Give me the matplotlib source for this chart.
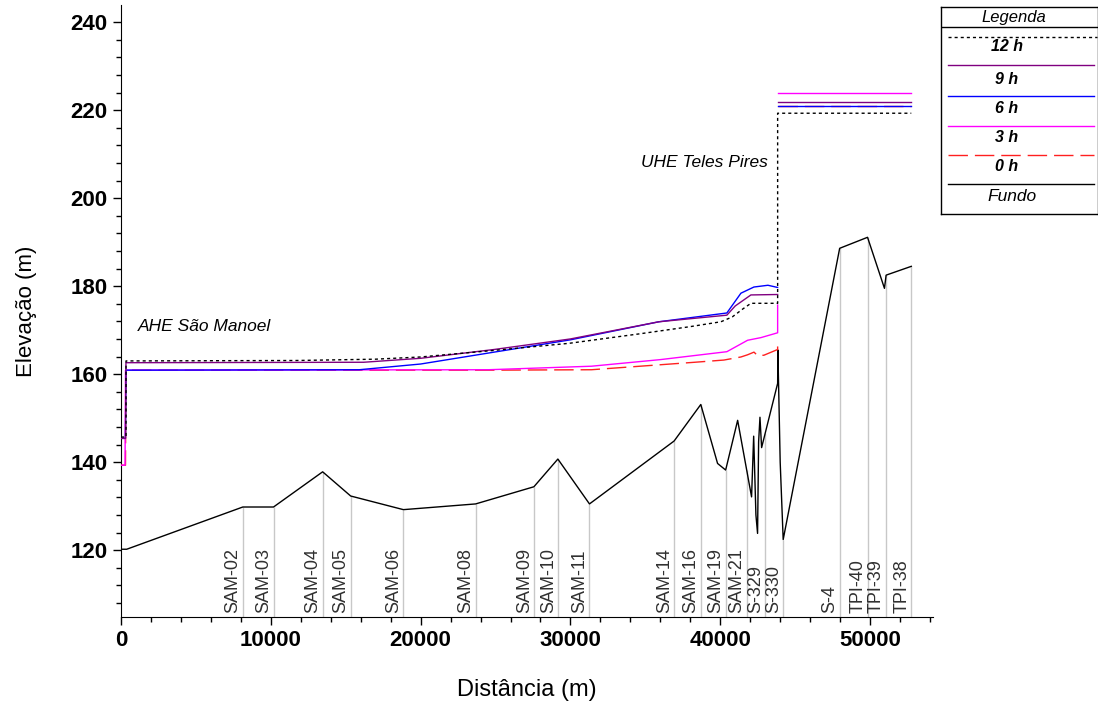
import matplotlib
matplotlib.use('Agg')
import numpy as np
import matplotlib.pyplot as plt
from matplotlib.ticker import MultipleLocator

# secoes topobatimetricas
secoes = ['SAM-02', 'SAM-03', 'SAM-04', 'SAM-05', 'SAM-06', 'SAM-08', 'SAM-09', 'SAM-10', 'SAM-11',
          'SAM-14', 'SAM-16', 'SAM-19', 'SAM-21', 'S-329', 'S-330', 'S-4', 'TPI-40', 'TPI-39', 'TPI-38']
dist_secoes = [8130, 10180, 13460, 15330, 18850, 23670, 27560, 29160, 31270,
               36920, 38700, 40360, 41760, 43010, 44200, 47970, 49830, 51070, 52750]

# fundo do rio
fundo_x = [0, 380, 8130, 10180, 13460, 15330, 18850, 23670, 27560, 29160, 31270, 36920, 38700,
           39820, 40360, 41160, 42090, 42230, 42380, 42490, 42560, 42650, 42760, 43830, 43845,
           44000, 44200, 47970, 49830, 50960, 51070, 52750]
fundo_y = [120.2, 120.2, 129.8, 129.8, 137.8, 132.3, 129.2, 130.5, 134.4, 140.7, 130.5, 144.8, 153.1,
           139.7, 138.2, 149.5, 132.1, 145.9, 128.0, 123.8, 144.6, 150.2, 143.3, 157.9, 165.5,
           140.0, 122.4, 188.6, 191.1, 179.5, 182.5, 184.5]

# linhas d'agua (trecho AHE Sao Manoel)
h12_x = [0, 335, 335, 11700, 17000, 20000, 24900, 29900, 34700, 38000, 40040, 40800, 41500, 42045, 43830, 43830, 52750]
h12_y = [145.7, 145.7, 163.0, 163.1, 163.4, 163.9, 165.4, 167.0, 169.2, 170.8, 171.9, 173.0, 174.8, 176.1, 176.1, 219.3, 219.3]

h9_x = [0, 300, 330, 16200, 20000, 24900, 30000, 35900, 40440, 41000, 42045, 43830]
h9_y = [145.4, 145.4, 162.6, 162.7, 163.6, 165.6, 168.0, 171.9, 173.4, 175.5, 178.0, 178.1]

h6_x = [0, 300, 330, 15900, 20000, 24900, 30000, 35900, 40440, 41380, 42246, 43182, 43830]
h6_y = [145.4, 145.4, 160.9, 161.0, 162.3, 165.0, 167.8, 171.9, 173.9, 178.4, 179.8, 180.2, 179.7]

h3_x = [0, 270, 300, 24500, 31400, 36000, 40440, 41825, 42714, 43830, 43830]
h3_y = [139.3, 139.3, 160.9, 161.0, 161.8, 163.3, 165.1, 167.7, 168.3, 169.4, 175.7]

h0_x = [0, 300, 330, 24500, 31400, 38300, 40240, 41380, 41825, 42250, 42500, 42914, 43830, 43830]
h0_y = [139.3, 139.3, 160.9, 160.9, 161.0, 162.7, 163.2, 163.9, 164.4, 165.0, 164.2, 164.3, 165.6, 167.3]

# reservatorio UHE Teles Pires
tp_x = [43840, 52750]
tp_h9 = [221.8, 221.8]
tp_h6 = [220.9, 220.9]
tp_h3 = [223.9, 223.9]
tp_h0 = [220.9, 220.9]

fig = plt.figure(figsize=(10.98, 7.02), dpi=100)
ax = fig.add_axes([121 / 1098, 85 / 702, 812 / 1098, 612 / 702])

fonte = ['Liberation Sans', 'DejaVu Sans']

ymin = 104.8
# linhas cinza das secoes
topo = np.interp(dist_secoes, fundo_x, fundo_y)
ax.vlines(dist_secoes, ymin, topo, color='#c8c8c8', lw=1.0, zorder=1)
for nome, d in zip(secoes, dist_secoes):
    ax.annotate(nome, xy=(d, ymin), xytext=(-0.8, 3), textcoords='offset points',
                rotation=90, ha='right', va='bottom', fontsize=13, family=fonte, color='#303030')

ax.plot(fundo_x, fundo_y, color='black', lw=1.0, zorder=3)
ax.plot(h0_x, h0_y, color='#ff2020', lw=1.0, dashes=(14, 5), zorder=4)
ax.plot(tp_x, tp_h0, color='#ff2020', lw=1.0, dashes=(14, 5), zorder=4)
ax.plot(h3_x, h3_y, color='#ff00ff', lw=1.0, zorder=5)
ax.plot(tp_x, tp_h3, color='#ff00ff', lw=1.0, zorder=5)
ax.plot(h6_x, h6_y, color='#0000ff', lw=1.0, zorder=6)
ax.plot(tp_x, tp_h6, color='#0000ff', lw=1.0, zorder=6)
ax.plot(h9_x, h9_y, color='#800080', lw=1.0, zorder=7)
ax.plot(tp_x, tp_h9, color='#800080', lw=1.0, zorder=7)
ax.plot(h12_x, h12_y, color='black', lw=1.0, dashes=(2.2, 2.2), zorder=8)

ax.text(1150, 170.9, 'AHE São Manoel', fontsize=12.5, style='italic', family=fonte, va='center', ha='left')
ax.text(34700, 208.0, 'UHE Teles Pires', fontsize=12.5, style='italic', family=fonte, va='center', ha='left')

ax.set_xlim(0, 54200)
ax.set_ylim(ymin, 243.9)
ax.spines['top'].set_visible(False)
ax.spines['right'].set_visible(False)
ax.xaxis.set_major_locator(MultipleLocator(10000))
ax.xaxis.set_minor_locator(MultipleLocator(2000))
ax.yaxis.set_major_locator(MultipleLocator(20))
ax.yaxis.set_minor_locator(MultipleLocator(4))
ax.tick_params(which='major', length=6, width=1, direction='out')
ax.tick_params(which='minor', length=3.6, width=1, direction='out')
for lab in ax.get_xticklabels() + ax.get_yticklabels():
    lab.set_family(fonte)
    lab.set_fontweight('bold')
    lab.set_fontsize(16)
ax.set_xlabel('Distância (m)', fontsize=17, family=fonte, labelpad=20)
ax.set_ylabel('Elevação (m)', fontsize=16, family=fonte, labelpad=24)

# legenda em caixa
lg = fig.add_axes([941 / 1098, (702 - 214) / 702, 157 / 1098, 207 / 702])
lg.set_xlim(941, 1098)
lg.set_ylim(214, 7)
lg.set_xticks([])
lg.set_yticks([])
for s in lg.spines.values():
    s.set_linewidth(1.0)
lg.plot([941, 1098], [27.3, 27.3], color='black', lw=1.0)
lg.text(1014, 18, 'Legenda', ha='center', va='center', fontsize=12, style='italic', family=fonte)
itens = [('12 h', 37.3, 46.7, dict(color='black', dashes=(2.2, 2.2))),
         ('9 h', 65.3, 79.3, dict(color='#800080')),
         ('6 h', 95.7, 108.3, dict(color='#0000ff')),
         ('3 h', 125.7, 137.3, dict(color='#ff00ff')),
         ('0 h', 155, 166.7, dict(color='#ff2020', dashes=(14, 5))),
         ('Fundo', 184.3, 196.7, dict(color='black'))]
for nome, yl, yt, est in itens:
    x1 = 1097 if nome == '12 h' else 1094
    lg.plot([948, x1], [yl, yl], lw=1.0, **est)
    if nome == 'Fundo':
        lg.text(1012, yt, nome, ha='center', va='center', fontsize=12.5, style='italic', family=fonte)
    else:
        lg.text(1007, yt, nome, ha='center', va='center', fontsize=11.5, style='italic',
                fontweight='bold', family=fonte)

fig.savefig('out.png', dpi=100)
